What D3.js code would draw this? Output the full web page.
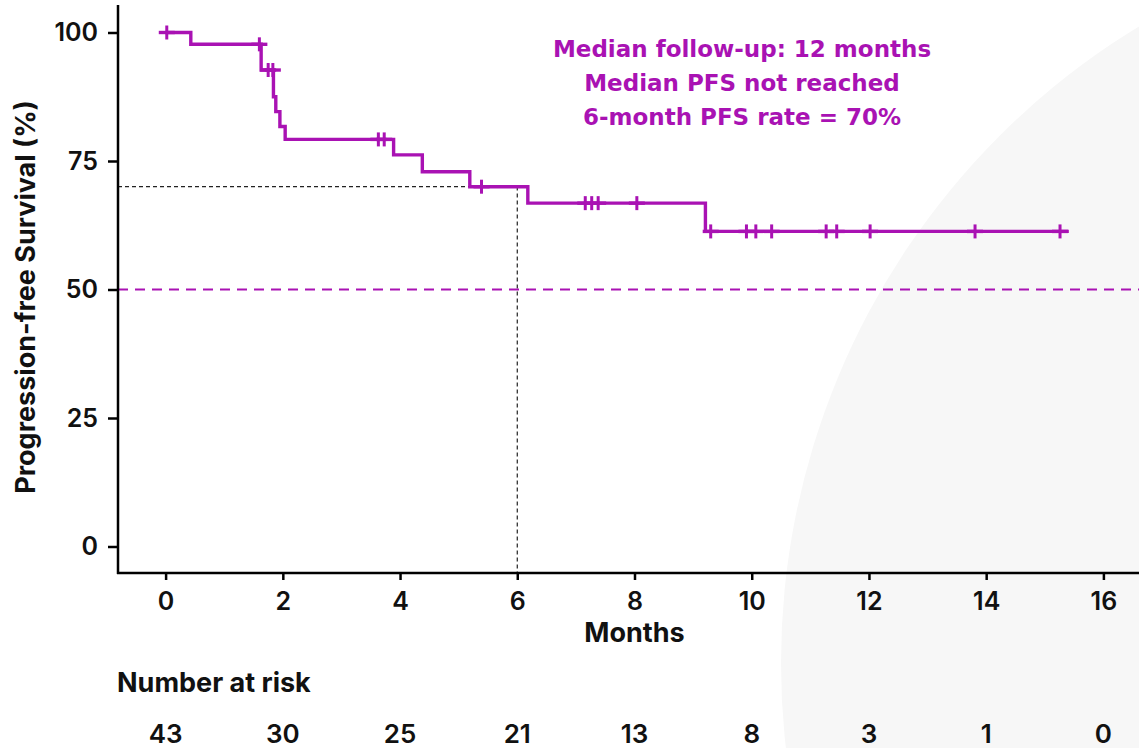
<!DOCTYPE html>
<html>
<head>
<meta charset="utf-8">
<script src="https://cdn.jsdelivr.net/npm/d3@7"></script>
<style>
  html, body { margin: 0; padding: 0; background: #fff; }
  svg { display: block; }
</style>
</head>
<body>
<svg id="km" width="1139" height="748"></svg>
<script>
// Kaplan-Meier steps (months, % progression-free)
var stepTimes = [0, 0.43, 1.63, 1.84, 1.88, 1.95, 2.04, 3.89, 4.38, 5.19, 6.18, 9.21];
var stepSurv  = [100, 97.7, 92.7, 87.5, 84.6, 81.7, 79.2, 76.2, 72.9, 70.0, 66.8, 61.3];
var lastTime = 15.41;

// censored observations (months)
var censorTimes = [0.02, 1.60, 1.75, 1.83, 3.63, 3.73, 5.39, 7.16, 7.27, 7.38, 8.04,
  9.30, 9.91, 10.07, 10.34, 11.27, 11.45, 12.02, 13.81, 15.26];

var monthTicks = [0, 2, 4, 6, 8, 10, 12, 14, 16];
var riskCounts = [43, 30, 25, 21, 13, 8, 3, 1, 0];
var survTicks = [0, 25, 50, 75, 100];

var notes = ['Median follow-up: 12 months', 'Median PFS not reached', '6-month PFS rate = 70%'];
var landmarkMonth = 6, landmarkSurv = 70, medianLine = 50;

var purple = '#a912b3';
var W = 1139, H = 748;
var font = 'Inter, "Liberation Sans", Arial, sans-serif';

var svg = d3.select('#km');

var x = d3.scaleLinear().domain([0, 16]).range([165.6, 1103.4]);
var y = d3.scaleLinear().domain([0, 100]).range([546.5, 32.5]);

var axisY = 573, axisX = 118;

// background arc
svg.append('circle')
  .attr('cx', 1526).attr('cy', 663).attr('r', 745)
  .attr('fill', '#f7f7f7');

// reference lines
svg.append('path')
  .attr('d', 'M' + axisX + ',' + y(landmarkSurv) + 'H' + x(landmarkMonth) + 'V' + axisY)
  .attr('fill', 'none')
  .attr('stroke', '#222')
  .attr('stroke-width', 1.2)
  .attr('stroke-dasharray', '4,3');

svg.append('line')
  .attr('x1', axisX).attr('x2', W)
  .attr('y1', y(medianLine)).attr('y2', y(medianLine))
  .attr('stroke', purple)
  .attr('stroke-width', 2)
  .attr('stroke-dasharray', '10,7');

// axes
var xAxis = svg.append('g')
  .attr('transform', 'translate(0,' + axisY + ')')
  .call(d3.axisBottom(x).tickValues(monthTicks).tickSize(7).tickSizeOuter(0).tickPadding(12));
xAxis.select('.domain').remove();
xAxis.selectAll('.tick line').attr('stroke', '#000').attr('stroke-width', 2.5);
xAxis.selectAll('.tick text')
  .attr('font-family', font)
  .attr('font-weight', 600)
  .attr('font-size', 25)
  .attr('fill', '#111');
xAxis.append('line')
  .attr('x1', axisX - 1).attr('x2', W)
  .attr('stroke', '#000').attr('stroke-width', 2.5);

var yAxis = svg.append('g')
  .attr('transform', 'translate(' + axisX + ',0)')
  .call(d3.axisLeft(y).tickValues(survTicks).tickSize(10).tickSizeOuter(0).tickPadding(10));
yAxis.select('.domain').remove();
yAxis.selectAll('.tick line').attr('stroke', '#000').attr('stroke-width', 2.5);
yAxis.selectAll('.tick text')
  .attr('font-family', font)
  .attr('font-weight', 600)
  .attr('font-size', 25)
  .attr('fill', '#111');
yAxis.append('line')
  .attr('y1', 5).attr('y2', axisY + 1)
  .attr('stroke', '#000').attr('stroke-width', 2.5);

// axis titles
svg.append('text')
  .attr('transform', 'translate(35,297) rotate(-90)')
  .attr('text-anchor', 'middle')
  .attr('font-family', font)
  .attr('font-weight', 700)
  .attr('font-size', 27)
  .attr('fill', '#111')
  .text('Progression-free Survival (%)');

svg.append('text')
  .attr('x', x(8)).attr('y', 642)
  .attr('text-anchor', 'middle')
  .attr('font-family', font)
  .attr('font-weight', 700)
  .attr('font-size', 27)
  .attr('fill', '#111')
  .text('Months');

// KM curve
var pts = stepTimes.map(function(t, i) { return [t, stepSurv[i]]; });
pts.push([lastTime, stepSurv[stepSurv.length - 1]]);

var line = d3.line()
  .x(function(d) { return x(d[0]); })
  .y(function(d) { return y(d[1]); })
  .curve(d3.curveStepAfter);

svg.append('path')
  .datum(pts)
  .attr('d', line)
  .attr('fill', 'none')
  .attr('stroke', purple)
  .attr('stroke-width', 3.4);

function survAt(t) {
  var s = stepSurv[0];
  for (var i = 0; i < stepTimes.length; i++) {
    if (stepTimes[i] <= t) s = stepSurv[i];
  }
  return s;
}

var cens = svg.append('g').selectAll('g')
  .data(censorTimes)
  .enter().append('g')
  .attr('transform', function(d) { return 'translate(' + x(d) + ',' + y(survAt(d)) + ')'; });
cens.append('line')
  .attr('x1', 0).attr('x2', 0).attr('y1', -7).attr('y2', 7)
  .attr('stroke', purple).attr('stroke-width', 3);
cens.append('line')
  .attr('x1', -8).attr('x2', 8).attr('y1', 0).attr('y2', 0)
  .attr('stroke', purple).attr('stroke-width', 3.4);

// annotation
svg.append('g').selectAll('text')
  .data(notes)
  .enter().append('text')
  .attr('x', 742)
  .attr('y', function(d, i) { return 56.5 + i * 34.3; })
  .attr('text-anchor', 'middle')
  .attr('font-family', '"DejaVu Sans", sans-serif')
  .attr('font-weight', 700)
  .attr('font-size', 23)
  .attr('fill', purple)
  .text(function(d) { return d; });

// number at risk
svg.append('text')
  .attr('x', 117).attr('y', 691.5)
  .attr('font-family', font)
  .attr('font-weight', 700)
  .attr('font-size', 27)
  .attr('fill', '#111')
  .text('Number at risk');

svg.append('g').selectAll('text')
  .data(riskCounts)
  .enter().append('text')
  .attr('x', function(d, i) { return x(monthTicks[i]); })
  .attr('y', 743)
  .attr('text-anchor', 'middle')
  .attr('font-family', font)
  .attr('font-weight', 600)
  .attr('font-size', 26)
  .attr('fill', '#111')
  .text(function(d) { return d; });
</script>
</body>
</html>
